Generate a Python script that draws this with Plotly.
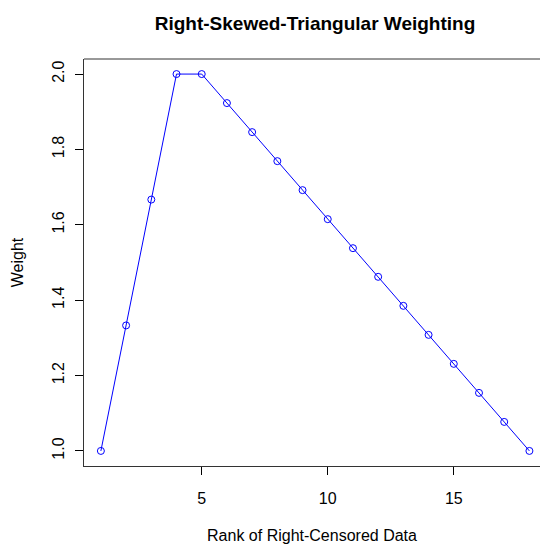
import plotly.graph_objects as go

rank = [1, 2, 3, 4, 5, 6, 7, 8, 9, 10, 11, 12, 13, 14, 15, 16, 17, 18]
weight = [1.0, 1.333, 1.667, 2.0, 2.0, 1.923, 1.846, 1.769, 1.692, 1.615,
          1.538, 1.462, 1.385, 1.308, 1.231, 1.154, 1.077, 1.0]
x_ticks = [5, 10, 15]
y_ticks = [1.0, 1.2, 1.4, 1.6, 1.8, 2.0]
y_tick_text = ["1.0", "1.2", "1.4", "1.6", "1.8", "2.0"]

FONT = "Liberation Sans, Arial, sans-serif"

fig = go.Figure()
fig.add_trace(go.Scatter(
    x=rank, y=weight, mode="lines+markers",
    line=dict(color="#0000FF", width=1),
    marker=dict(symbol="circle-open", size=7, color="#0000FF", line=dict(width=1, color="#0000FF")),
    showlegend=False,
))

fig.update_layout(
    width=540, height=545,
    margin=dict(l=84, r=0, t=59, b=79),
    paper_bgcolor="white", plot_bgcolor="white",
    font=dict(family=FONT, size=16, color="black"),
    title=dict(text="<b>Right-Skewed-Triangular Weighting</b>",
               x=315/540, xanchor="center", y=1-23/545, yanchor="middle",
               font=dict(family=FONT, size=19, color="black")),
    xaxis=dict(range=[0.33, 18.42], tickmode="array", tickvals=x_ticks,
               ticks="outside", ticklen=8, tickcolor="black", tickwidth=1,
               ticklabelstandoff=10,
               showline=True, linecolor="#333333", linewidth=1, mirror=False,
               showgrid=False, zeroline=False,
               title=dict(text="Rank of Right-Censored Data", standoff=23,
                          font=dict(family=FONT, size=16))),
    yaxis=dict(range=[0.96, 2.04], tickmode="array", tickvals=y_ticks, ticktext=y_tick_text,
               tickangle=-90,
               ticks="outside", ticklen=8, tickcolor="black", tickwidth=1,
               ticklabelstandoff=5,
               showline=True, linecolor="#333333", linewidth=1, mirror=False,
               showgrid=False, zeroline=False,
               title=dict(text="Weight", standoff=21,
                          font=dict(family=FONT, size=16))),
)
fig.add_shape(type="line", xref="paper", yref="paper", x0=0, x1=1, y0=1, y1=1,
              line=dict(color="#333333", width=1))

fig.write_html("out.html")
